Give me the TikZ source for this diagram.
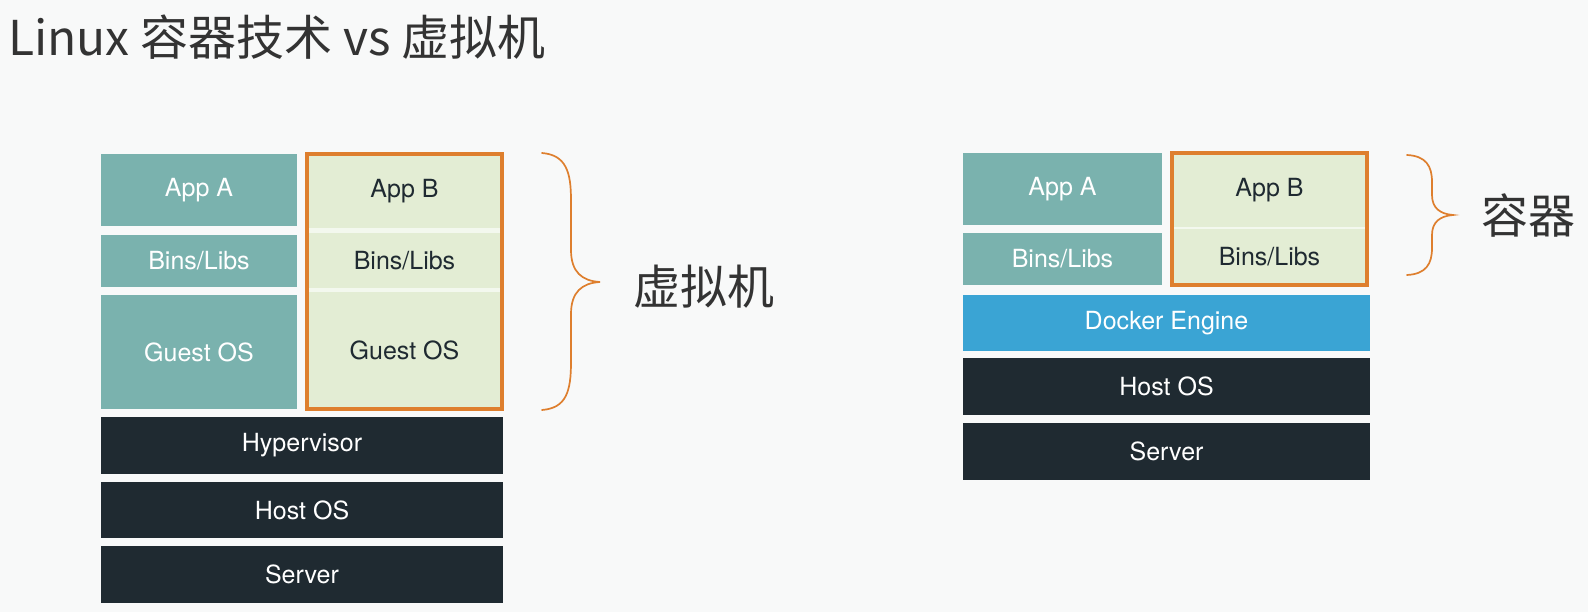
\documentclass[tikz,border=0pt]{standalone}
\usepackage{fontspec}
\setmainfont{TeX Gyre Heros}
\newfontfamily\cjk{Noto Sans CJK SC}
\definecolor{bgc}{HTML}{F8F9F9}
\definecolor{tealc}{HTML}{7AB2AE}
\definecolor{greenc}{HTML}{E3EDD4}
\definecolor{sepc}{HTML}{F3F8EE}
\definecolor{darkc}{HTML}{1F2A31}
\definecolor{bluec}{HTML}{3AA4D4}
\definecolor{orangec}{HTML}{DE7F2E}
\definecolor{titlec}{HTML}{333333}
\begin{document}
\begin{tikzpicture}[x=1pt,y=-1pt,
  blk/.style={anchor=north west,inner sep=0pt,outer sep=0pt,font=\fontsize{25}{28}\selectfont},
  tealbox/.style={blk,fill=tealc,text=white},
  greenbox/.style={blk,fill=greenc,text=darkc},
  darkbox/.style={blk,fill=darkc,text=white},
  bluebox/.style={blk,fill=bluec,text=white},
  frame/.style={draw=orangec,line width=3.2pt},
  bracec/.style={draw=orangec,line width=1.7pt,line cap=round},
  cn/.style={text=titlec,font=\cjk\fontsize{47}{52}\selectfont,inner sep=0pt}]
\fill[bgc] (0,0) rectangle (1588,612);
\node[cn,anchor=base west,font=\cjk\fontsize{48}{54}\selectfont] (title) at (8,56) {Linux 容器技术 vs 虚拟机};
% ---- left stack (VM)
\node[tealbox,minimum width=196pt,minimum height=72pt] (vappA) at (101,154) {App A};
\node[tealbox,minimum width=196pt,minimum height=52pt] (vbinsA) at (101,235) {Bins/Libs};
\node[tealbox,minimum width=196pt,minimum height=114pt] (vosA) at (101,295) {Guest OS};
\node[greenbox,minimum width=195pt,minimum height=74pt] (vappB) at (307,154) {App B};
\node[greenbox,minimum width=195pt,minimum height=55pt] (vbinsB) at (307,233) {Bins/Libs};
\node[greenbox,minimum width=195pt,minimum height=117pt] (vosB) at (307,292) {Guest OS};
\fill[sepc] (vappB.south west) rectangle (vbinsB.north east);
\fill[sepc] (vbinsB.south west) rectangle (vosB.north east);
\draw[frame] (vappB.north west) rectangle (vosB.south east);
\node[darkbox,minimum width=402pt,minimum height=57pt] (hyp) at (101,417) {Hypervisor};
\node[darkbox,minimum width=402pt,minimum height=56pt] (vhost) at (101,482) {Host OS};
\node[darkbox,minimum width=402pt,minimum height=57pt] (vserver) at (101,546) {Server};
% brace VM
\coordinate (bt1) at (542,153);
\coordinate (bm1) at (600,282);
\coordinate (bb1) at (542,410);
\draw[bracec] (bt1) .. controls (566,155) and (571,172) .. (571,200) -- (571,250)
  .. controls (571,272) and (582,281) .. (bm1)
  .. controls (582,283) and (571,292) .. (571,314) -- (571,362)
  .. controls (571,392) and (566,408) .. (bb1);
\node[cn,anchor=west] (vmlabel) at (633,287) {虚拟机};
% ---- right stack (containers)
\node[tealbox,minimum width=199pt,minimum height=72pt] (cappA) at (963,153) {App A};
\node[tealbox,minimum width=199pt,minimum height=52pt] (cbinsA) at (963,233) {Bins/Libs};
\node[greenbox,minimum width=195pt,minimum height=74pt] (cappB) at (1172,153) {App B};
\node[greenbox,minimum width=195pt,minimum height=56pt] (cbinsB) at (1172,229) {Bins/Libs};
\fill[sepc] (cappB.south west) rectangle (cbinsB.north east);
\draw[frame] (cappB.north west) rectangle (cbinsB.south east);
\node[bluebox,minimum width=407pt,minimum height=56pt] (docker) at (963,295) {Docker Engine};
\node[darkbox,minimum width=407pt,minimum height=57pt] (chost) at (963,358) {Host OS};
\node[darkbox,minimum width=407pt,minimum height=57pt] (cserver) at (963,423) {Server};
% brace containers
\coordinate (bt2) at (1407,155);
\coordinate (bm2) at (1453,215);
\coordinate (bb2) at (1407,275);
\draw[bracec] (bt2) .. controls (1426,156) and (1432,166) .. (1432,182) -- (1432,195)
  .. controls (1432,208) and (1440,214) .. (bm2)
  .. controls (1440,216) and (1432,222) .. (1432,235) -- (1432,248)
  .. controls (1432,264) and (1426,274) .. (bb2);
\node[cn,anchor=west] (ctlabel) at (1481,216) {容器};
\end{tikzpicture}
\end{document}
